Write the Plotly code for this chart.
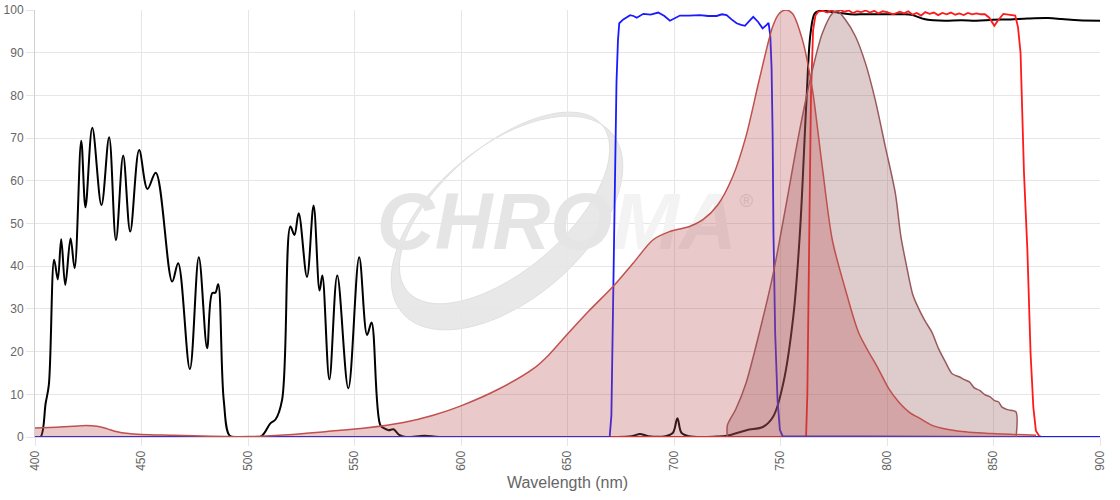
"""Filter set spectra: multiband exciter, dichroic, emitter and dye curves."""

import numpy as np
import plotly.graph_objects as go

# ---- data (wavelength nm, % transmission / normalised intensity) ----
exciter_nm = [400, 402.6, 405, 406.5, 409, 410.7, 412.3, 414.2, 416.7, 418.6, 421.7, 423.7,
              426.9, 431.2, 434.8, 438, 441.4, 444.7, 448.9, 452.8, 456.7, 464.4, 467.2,
              472.7, 476.9, 480.8, 483.2, 484.7, 486, 488.6, 491.4, 495, 505.8, 510.5,
              512.9, 516, 519.9, 521.8, 523.8, 527.7, 530.8, 533.6, 534.9, 538.2, 541.9,
              547.1, 552.2, 555.9, 558, 562.1, 564, 566, 568.3, 571, 574, 583, 590, 640,
              680, 684, 688, 696, 699.5, 701.6, 703.5, 707, 720, 725, 734, 741.9, 746.6,
              751.3, 756, 759.1, 762.2, 764.1, 766.1, 768.4, 775, 782.6, 790, 800, 807.7,
              812, 817.4, 822, 827.1, 835, 842, 849.7, 858, 866, 875.6, 882, 890, 900]
exciter_pct = [0, 0, 7.9, 12.2, 41.5, 36.9, 46.3, 35.6, 46.5, 39.5, 69.4, 53.8,
               72.4, 54.3, 70.2, 46.1, 65.9, 48.1, 67.2, 58.1, 61.9, 36.4, 40.7,
               15.9, 42.1, 20.8, 33.7, 33.8, 35.8, 8.7, 0.3, 0, 0, 3.2,
               4.1, 8.7, 49.3, 47.3, 52.4, 37.5, 54.2, 34.3, 37.8, 13.5, 37.8,
               11.4, 42.1, 23.9, 26.8, 2.8, 2.0, 1.6, 1.8, 0.5, 0, 0.3, 0, 0,
               0.2, 0.7, 0.2, 0.2, 1.0, 4.4, 1.0, 0.2, 0.1, 0.3, 1.6, 2.4, 4.8,
               12.6, 28.2, 47.7, 78.9, 94.5, 99.2, 99.8, 99.5, 99.0, 99.0, 99.0, 99.0,
               98.8, 97.9, 97.6, 97.5, 97.6, 97.5, 97.7, 97.8, 98.0, 98.1, 97.9, 97.6, 97.5]

dichroic_nm = [400, 669.8, 670.6, 671.5, 672.3, 673, 673.7, 674.3, 676.2, 679.4, 681, 682.5,
               685.6, 689, 692.6, 695.5, 698.1, 700, 702.8, 707, 712.2, 716, 720, 722.5,
               724.7, 727, 729.4, 731.5, 733.3, 735.5, 737.2, 739.5, 741.6, 743.5, 744.4,
               745.2, 745.8, 746.3, 746.7, 747.5, 748.6, 749.7, 751, 900]
dichroic_pct = [0, 0, 5, 36, 63, 83, 93, 96.9, 97.8, 98.8, 98.6, 98.2,
                99.1, 98.9, 99.4, 98.6, 97.5, 98.0, 98.7, 98.7, 98.8, 98.6, 98.6, 99.0,
                98.8, 97.8, 96.9, 96.5, 96.3, 97.5, 98.4, 97.2, 95.7, 96.5, 97.0,
                94, 86.7, 71, 47.7, 24.3, 8.7, 1.7, 0.2, 0]

emitter_nm = [400, 762, 762.6, 763.4, 764.3, 765.3, 766.4, 767.7, 770, 772, 774, 776, 778,
              780, 782, 784, 786, 788, 790, 792, 794, 796, 798, 800, 803, 806, 808, 810,
              812, 814, 816, 818, 820, 822, 824, 826, 828, 830, 832, 834, 836, 838, 840,
              842, 844, 846, 848, 850.4, 852, 854.6, 857, 860.2, 861.5, 862.7, 864.3,
              865.9, 867.4, 868.7, 869.9, 871.5, 873, 900]
emitter_pct = [0, 0, 10, 47.7, 80, 95.3, 98.7, 99.6, 99.8, 99.4, 99.9, 99.5, 100,
               99.6, 99.9, 99.3, 99.7, 99.5, 99.9, 99.4, 99.8, 99.2, 99.7, 99.5, 99.0, 99.6, 99.2, 99.7,
               98.9, 99.3, 98.7, 99.5, 99.1, 99.4, 98.8, 99.3, 99.0, 99.4, 98.9, 99.2, 98.8, 99.3, 99.0,
               99.2, 99.0, 99.0, 98.2, 96.3, 97.5, 99.1, 98.9, 98.7, 96, 90, 62,
               43.8, 19.6, 7, 1.5, 0.2, 0, 0]

dye_ex_nm = [400, 410, 418, 424, 429, 434, 438, 444, 450, 465, 483, 500, 519, 537, 555,
             573, 587, 600, 618, 634, 641, 650, 660, 671.5, 680.8, 690.2, 697.9, 707.3,
             713.6, 720.6, 727.6, 733.8, 740, 746.3, 749.4, 752.5, 755.6, 760.3, 765,
             769.6, 774.3, 780.5, 786.8, 796.1, 801, 805.5, 811, 815, 821.8, 833.1,
             849.2, 870]
dye_ex_pct = [2.1, 2.3, 2.5, 2.7, 2.5, 1.9, 1.3, 0.8, 0.6, 0.4, 0.15, 0.1, 0.5, 1.3, 2.1,
              3.4, 5.1, 7.3, 11.3, 16, 19.1, 24.1, 29.5, 35.3, 40.7, 46.2, 48.1, 49.3,
              50.9, 54.4, 61, 70.4, 83.6, 96.1, 99.2, 100, 99.2, 93, 81.3,
              63.3, 46.2, 34.5, 24.3, 15.8, 11.2, 8.2, 5.6, 4.5, 2.6, 1.4,
              0.8, 0.4]

dye_em_nm = [725, 725.1, 729, 733.8, 740, 746.3, 752.5, 758.7, 765, 769.6, 774.3, 776.6,
             780.5, 785.2, 789.9, 794.5, 799.2, 803.9, 806.5, 809, 812, 814, 817.7, 821,
             824.2, 827.4, 830.6, 833.9, 836, 838.7, 841, 843.5, 846, 848.4, 850.5, 852.4,
             854, 856.5, 860.5, 860.6]
dye_em_pct = [0, 2.8, 6.5, 12.6, 24.3, 37.6, 54, 71.1, 86, 94.5, 99.2, 99.8,
              97.7, 93.8, 87.5, 78.9, 68, 57.1, 47, 40.5, 33.5, 31, 27.3, 24.6,
              20.7, 17.6, 14.8, 14.1, 13.5, 12.9, 11.5, 10.9, 9.9, 9.4, 8.5, 8.2,
              7.0, 6.4, 5.9, 0]

x_ticks = [400, 450, 500, 550, 600, 650, 700, 750, 800, 850, 900]
y_ticks = [0, 10, 20, 30, 40, 50, 60, 70, 80, 90, 100]

W, H = 1120, 500
M = dict(l=35, r=20, t=10, b=63)
PW, PH = W - M["l"] - M["r"], H - M["t"] - M["b"]

FONT = "Liberation Sans, Arial, sans-serif"
GRID = "#e6e6e6"


def _px_to_paper(px, py):
    # px/py measured relative to the plot area's top-left corner
    return px / PW, (PH - py) / PH


def _ellipse(cx, cy, a, b, theta_deg, n=120):
    t = np.linspace(0, 2 * np.pi, n, endpoint=False)
    th = np.radians(theta_deg)
    ux, uy = np.cos(th), -np.sin(th)
    vx, vy = np.sin(th), np.cos(th)
    px = cx + a * np.cos(t) * ux + b * np.sin(t) * vx
    py = cy + a * np.cos(t) * uy + b * np.sin(t) * vy
    xs, ys = _px_to_paper(px, py)
    pts = " L ".join(f"{x:.4f},{y:.4f}" for x, y in zip(xs, ys))
    return f"M {pts} Z"


def swoosh_path():
    # crescent: outer ellipse minus an inner one pushed to the upper left
    th = np.radians(40.7)
    cx, cy = 472, 213
    ix = cx - 13 * np.sin(th) + 8 * np.cos(th)
    iy = cy - 13 * np.cos(th) - 8 * np.sin(th)
    return _ellipse(cx, cy, 138, 76, 40.7) + " " + _ellipse(ix, iy, 128, 62, 40.7)


def line_trace(x, y, color, width=2, shape="linear"):
    return go.Scatter(x=x, y=y, mode="lines", line=dict(color=color, width=width, shape=shape),
                      hoverinfo="x+y", showlegend=False)


def fill_trace(x, y, line_color, fill_color):
    return go.Scatter(x=x, y=y, mode="lines", fill="tozeroy", fillcolor=fill_color,
                      line=dict(color=line_color, width=1.5, shape="spline", smoothing=0.8),
                      hoverinfo="x+y", showlegend=False)


fig = go.Figure()

# watermark
fig.add_trace(go.Scatter(
    x=[645], y=[48.8], mode="text",
    text=["CHRO<span style='color:#f3f3f3'>MA</span>"],
    textfont=dict(family=FONT, size=80, color="#e5e5e5", weight="bold", style="italic"),
    hoverinfo="skip", showlegend=False,
))
fig.add_trace(go.Scatter(
    x=[734], y=[55], mode="text", text=["®"],
    textfont=dict(family=FONT, size=18, color="#e2e2e2"),
    hoverinfo="skip", showlegend=False,
))
fig.add_shape(type="path", path=swoosh_path(), xref="paper", yref="paper",
              fillcolor="#e8e8e8", line=dict(color="#e0e0e0", width=1),
              fillrule="evenodd", layer="below")

fig.add_trace(line_trace(exciter_nm, exciter_pct, "#000000", 2, "spline"))
fig.add_trace(line_trace(emitter_nm, emitter_pct, "#ff1a1a", 1.8))
fig.add_trace(line_trace(dichroic_nm, dichroic_pct, "#1a1aff", 1.8))
fig.add_trace(fill_trace(dye_em_nm, dye_em_pct, "#9a5a5c", "rgba(145,85,88,0.3)"))
fig.add_trace(fill_trace(dye_ex_nm, dye_ex_pct, "#c0504d", "rgba(185,75,80,0.3)"))

fig.update_layout(
    width=W, height=H,
    margin=M,
    paper_bgcolor="white", plot_bgcolor="white",
    font=dict(family=FONT, size=12, color="#666666"),
    showlegend=False,
)
fig.update_xaxes(
    range=[400, 900], tickvals=x_ticks, ticktext=[str(v) for v in x_ticks], tickangle=-90,
    showgrid=True, gridcolor=GRID, zeroline=False, automargin=False,
    showline=True, linecolor="#d9d9d9",
    ticks="outside", ticklen=8, tickcolor=GRID,
    tickfont=dict(size=12, color="#666666"),
    title=dict(text="Wavelength (nm)", font=dict(size=16, color="#666666"), standoff=6),
)
fig.update_yaxes(
    range=[0, 100], tickvals=y_ticks,
    showgrid=True, gridcolor=GRID, zeroline=False, automargin=False,
    showline=True, linecolor="#d0d0d0",
    ticks="outside", ticklen=8, tickcolor=GRID,
    tickfont=dict(size=12, color="#666666"),
)

# the page's default body margin would push the chart off its frame
fig.write_html("out.html", config={"displayModeBar": False},
               post_script="document.body.style.margin = '0px';")
